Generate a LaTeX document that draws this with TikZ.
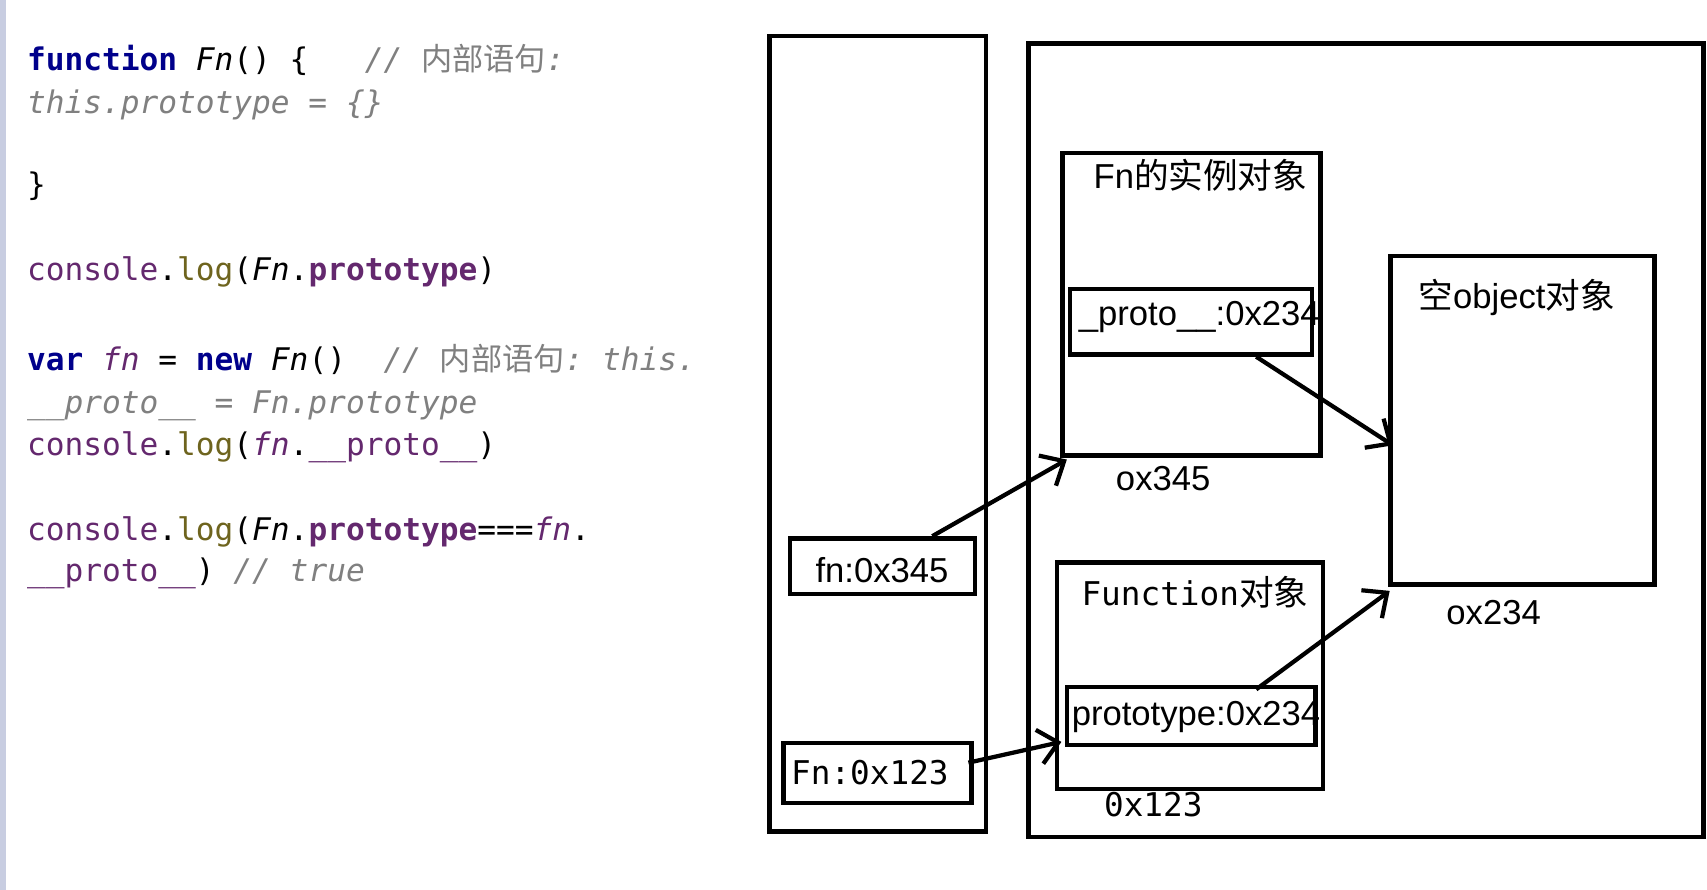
\documentclass[tikz,border=0pt]{standalone}
\usepackage{fontspec}
\setmainfont{Liberation Sans}
\setmonofont{DejaVu Sans Mono}
\newfontfamily\cjk{Noto Sans CJK SC}
\usetikzlibrary{positioning,arrows.meta}
\definecolor{kwblue}{RGB}{0,0,139}
\definecolor{cpurple}{RGB}{100,40,110}
\definecolor{colive}{RGB}{110,100,30}
\definecolor{cgrey}{RGB}{128,128,128}
\definecolor{edge}{RGB}{200,205,225}

\tikzset{
  code/.style={anchor=base west,inner sep=0pt,font=\ttfamily\fontsize{8.1}{10}\selectfont},
  mem/.style={draw,line width=1.2pt},
  lbl/.style={font=\fontsize{9}{11}\selectfont,inner sep=0pt},
  ptr/.style={line width=1.1pt,-{Straight Barb[length=5pt,width=9pt]}}
}

\begin{document}
\begin{tikzpicture}[x=0.01cm,y=-0.01cm]
    \useasboundingbox (0,0) rectangle (1560,813);
    \fill[white] (0,0) rectangle (1560,813);
    \draw[edge,line width=2pt] (2,0) -- (2,813);
    % code on the left
    \node[code] (l1) at (24,64) {\textcolor{kwblue}{\bfseries function} \textit{Fn}() \{\ \ \ \textcolor{cgrey}{\itshape // {\cjk 内部语句}:}};
    \node[code] (l2) at (24,104) {\textcolor{cgrey}{\itshape this.prototype = \{\}}};
    \node[code] (l3) at (24,179) {\}};
    \node[code] (l4) at (24,256) {\textcolor{cpurple}{console}.\textcolor{colive}{log}(\textit{Fn}.\textcolor{cpurple}{\bfseries prototype})};
    \node[code] (l5) at (24,339) {\textcolor{kwblue}{\bfseries var} \textcolor{cpurple}{\itshape fn} = \textcolor{kwblue}{\bfseries new} \textit{Fn}()\ \ \textcolor{cgrey}{\itshape // {\cjk 内部语句}: this.}};
    \node[code] (l6) at (24,378) {\textcolor{cgrey}{\itshape \_\_proto\_\_ = Fn.prototype}};
    \node[code] (l7) at (24,416) {\textcolor{cpurple}{console}.\textcolor{colive}{log}(\textcolor{cpurple}{\itshape fn}.\textcolor{cpurple}{\_\_proto\_\_})};
    \node[code] (l8) at (24,494) {\textcolor{cpurple}{console}.\textcolor{colive}{log}(\textit{Fn}.\textcolor{cpurple}{\bfseries prototype}===\textcolor{cpurple}{\itshape fn}.};
    \node[code] (l9) at (24,531) {\textcolor{cpurple}{\_\_proto\_\_}) \textcolor{cgrey}{\itshape // true}};
    % stack and heap
    \draw[mem] (703,33) rectangle (901,760);
    \draw[mem] (940,40) rectangle (1557,765);
    % instance object
    \draw[mem] (971,140) rectangle (1207,416);
    \node[lbl] (insttitle) at (1097,160) {Fn{\cjk 的实例对象}};
    \draw[mem] (978,264) rectangle (1199,324);
    \coordinate (protobox) at (1148,326);
    \node[lbl] (proto) at (1096,290) {\_proto\_\_:0x234};
    \node[lbl] (instaddr) at (1063,437) {ox345};
    % empty object
    \draw[mem] (1271,234) rectangle (1512,534);
    \coordinate (objleft) at (1273,407);
    \coordinate (objbot) at (1270,540);
    \node[lbl] (objtitle) at (1386,272) {{\cjk 空}object{\cjk 对象}};
    \node[lbl] (objaddr) at (1365,560) {ox234};
    % function object
    \draw[mem] (966,514) rectangle (1209,721);
    \node[lbl,font=\ttfamily\fontsize{8.5}{10}\selectfont] (functitle) at (1092,541) {Function{\cjk\fontsize{9}{11}\selectfont 对象}};
    \draw[mem] (975,628) rectangle (1202,681);
    \coordinate (protoprop) at (1148,630);
    \coordinate (funcleft) at (970,678);
    \coordinate (instbot) at (975,420);
    \node[lbl] (prototype) at (1093,655) {prototype:0x234};
    \node[lbl,font=\ttfamily\fontsize{8.5}{10}\selectfont] (funcaddr) at (1054,735) {0x123};
    % stack variables
    \draw[mem] (722,492) rectangle (891,543);
    \node[lbl] (fnvar) at (806,521) {fn:0x345};
    \coordinate (fntop) at (852,490);
    \draw[mem] (716,679) rectangle (888,734);
    \node[lbl,font=\ttfamily\fontsize{8.5}{10}\selectfont] (Fnvar) at (795,706) {Fn:0x123};
    \coordinate (Fnright) at (885,697);
    % pointers
    \draw[ptr] (fntop) -- (instbot);
    \draw[ptr] (protobox) -- (objleft);
    \draw[ptr] (Fnright) -- (funcleft);
    \draw[ptr] (protoprop) -- (objbot);
\end{tikzpicture}
\end{document}
